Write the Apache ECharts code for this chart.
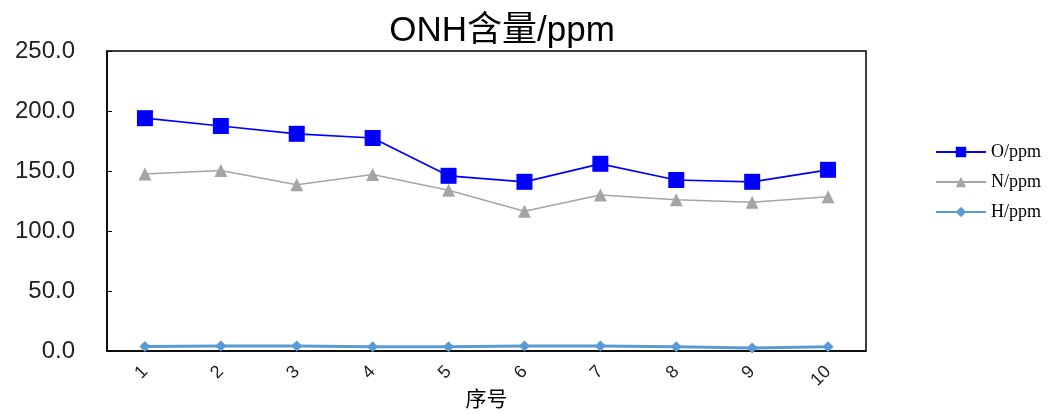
<!DOCTYPE html>
<html><head><meta charset="utf-8">
<script src="https://cdn.jsdelivr.net/npm/echarts@6/dist/echarts.min.js"></script>
<style>html,body{margin:0;padding:0;background:#fff}#c{width:1059px;height:414px}</style>
</head><body><div id="c"></div>
<script>
const categories = ['1','2','3','4','5','6','7','8','9','10'];
const oValues = [194, 187.5, 181, 177.5, 146, 141, 156, 142.5, 141, 151];
const nValues = [147.5, 150.5, 138.5, 147, 134, 116.5, 130, 126, 124, 128.5];
const hValues = [3.8, 4.2, 4.2, 3.6, 3.6, 4.2, 4.2, 3.5, 2.5, 3.5];
const yTicks = [0, 50, 100, 150, 200, 250];

const chart = echarts.init(document.getElementById('c'));
chart.setOption({
  animation: false,
  backgroundColor: '#fff',
  title: { text: 'ONH含量/ppm', left: 497, top: 9, textAlign: 'center',
    textStyle: { fontFamily: 'Liberation Sans, Arial, Noto Sans CJK SC', fontSize: 35, fontWeight: 'normal', color: '#000' } },
  grid: { left: 107, right: 193, top: 51, bottom: 63, show: true, borderColor: '#000', borderWidth: 1.5,
    backgroundColor: 'transparent', containLabel: false, outerBoundsMode: 'none' },
  legend: { orient: 'vertical', left: 935, top: 143, padding: 0, itemWidth: 50, itemHeight: 13, itemGap: 12,
    textStyle: { fontFamily: 'Liberation Serif, Times New Roman, serif', fontSize: 18, color: '#000' },
    data: ['O/ppm', 'N/ppm', 'H/ppm'] },
  xAxis: { type: 'category', data: categories, boundaryGap: true,
    name: '序号', nameLocation: 'middle', nameGap: 37, nameMoveOverlap: false,
    nameTextStyle: { fontFamily: 'Noto Sans CJK SC', fontSize: 21, color: '#000' },
    axisLine: { lineStyle: { color: '#000', width: 1.5 } },
    axisTick: { inside: true, length: 5, alignWithLabel: false, lineStyle: { color: '#000' } },
    axisLabel: { rotate: 45, margin: 18, fontFamily: 'Liberation Sans, Arial', fontSize: 18, color: '#222' } },
  yAxis: { type: 'value', min: 0, max: 250, interval: 50,
    axisLine: { show: true, lineStyle: { color: '#000', width: 1.5 } },
    axisTick: { show: true, inside: true, length: 5, lineStyle: { color: '#000' } },
    splitLine: { show: false },
    axisLabel: { margin: 32, fontFamily: 'Liberation Sans, Arial', fontSize: 24, color: '#222',
      customValues: yTicks, formatter: v => v.toFixed(1) } },
  series: [
    { name: 'O/ppm', type: 'line', data: oValues, symbol: 'rect', symbolSize: 16,
      itemStyle: { color: '#0000FF' }, lineStyle: { color: '#0000FF', width: 1.75 } },
    { name: 'N/ppm', type: 'line', data: nValues, symbol: 'triangle', symbolSize: 13,
      itemStyle: { color: '#A5A5A5' }, lineStyle: { color: '#A5A5A5', width: 1.5 } },
    { name: 'H/ppm', type: 'line', data: hValues, symbol: 'diamond', symbolSize: 11,
      itemStyle: { color: '#5B9BD5' }, lineStyle: { color: '#5B9BD5', width: 3 } }
  ]
});
</script></body></html>
